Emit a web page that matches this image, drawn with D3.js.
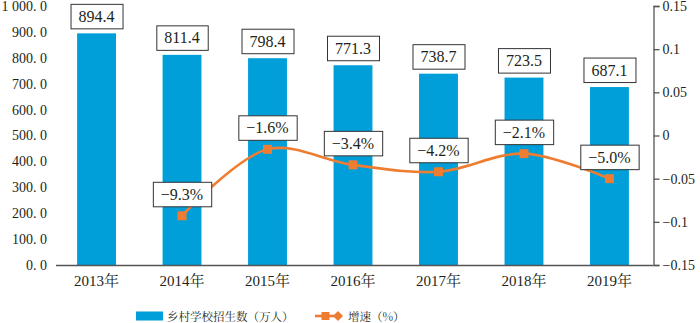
<!DOCTYPE html>
<html><head><meta charset="utf-8">
<script src="https://cdn.jsdelivr.net/npm/d3@7/dist/d3.min.js"></script>
<style>
html,body{margin:0;padding:0;background:#fff;}
svg{display:block;}
</style></head>
<body>
<svg id="chart" width="700" height="323"></svg>
<script>
const categories = ["2013年","2014年","2015年","2016年","2017年","2018年","2019年"];
const enrolment = [894.4, 811.4, 798.4, 771.3, 738.7, 723.5, 687.1];
const growth = [null, -9.3, -1.6, -3.4, -4.2, -2.1, -5.0];
const leftTicks = [0,100,200,300,400,500,600,700,800,900,1000];
const leftTickLabels = ["0. 0","100. 0","200. 0","300. 0","400. 0","500. 0","600. 0","700. 0","800. 0","900. 0","1 000. 0"];
const rightTicks = [-0.15,-0.1,-0.05,0,0.05,0.1,0.15];
const rightTickLabels = ["−0.15","−0.1","−0.05","0","0.05","0.1","0.15"];
const legendLabels = ["乡村学校招生数（万人）","增速（%）"];

const BLUE = "#009fd9", ORANGE = "#ee7d31", INK = "#231f20", AXIS = "#555";
const SERIF = '"Liberation Serif","Noto Serif CJK SC",serif';
const CJK = '"Noto Serif CJK SC","Noto Sans CJK SC",serif';

const svg = d3.select("#chart");
const x = d3.scaleBand().domain(categories).range([54, 652]).paddingInner(0.545).paddingOuter(0.27);
const yL = d3.scaleLinear().domain([0, 1000]).range([265, 6]);
const yR = d3.scaleLinear().domain([-0.15, 0.15]).range([265, 6]);

// bars
svg.append("g").selectAll("rect").data(enrolment).join("rect")
  .attr("x", (d,i) => x(categories[i]))
  .attr("width", x.bandwidth())
  .attr("y", d => yL(d))
  .attr("height", d => yL(0) - yL(d))
  .attr("fill", BLUE);

// left axis labels (no line)
const gl = svg.append("g").attr("transform","translate(47,0)")
  .call(d3.axisLeft(yL).tickValues(leftTicks).tickSize(0).tickPadding(0)
    .tickFormat((d,i) => leftTickLabels[i]));
gl.select(".domain").remove();
gl.selectAll("text").style("font-family", SERIF).style("font-size","14px").attr("fill", INK);

// bottom axis
const gb = svg.append("g").attr("transform","translate(0,265.5)")
  .call(d3.axisBottom(x).tickSize(0).tickPadding(10));
gb.select(".domain").attr("d","M56,0H653").attr("stroke", AXIS).attr("stroke-width",1.5);
gb.selectAll("text").style("font-family", SERIF).style("font-size","15px").attr("fill", INK);

// right axis
const gr = svg.append("g").attr("transform","translate(653.5,0)")
  .call(d3.axisRight(yR).tickValues(rightTicks).tickSize(6).tickPadding(3)
    .tickFormat((d,i) => rightTickLabels[i]));
gr.select(".domain").attr("stroke", AXIS).attr("stroke-width",1.3);
gr.selectAll(".tick line").attr("stroke", AXIS).attr("stroke-width",1.3);
gr.selectAll("text").style("font-family", SERIF).style("font-size","14px").attr("fill", INK);

// growth line
const pts = growth.map((g,i) => g == null ? null : {cx: x(categories[i]) + x.bandwidth()/2, cy: yR(g/100), g}).filter(p => p);
svg.append("path")
  .attr("d", d3.line().x(p => p.cx).y(p => p.cy).curve(d3.curveCatmullRom.alpha(0.5))(pts))
  .attr("fill","none").attr("stroke", ORANGE).attr("stroke-width", 2.6);
svg.append("g").selectAll("rect").data(pts).join("rect")
  .attr("x", p => p.cx - 4.5).attr("y", p => p.cy - 4.5)
  .attr("width", 9).attr("height", 9).attr("fill", ORANGE);

// label boxes
function boxLabel(cx, bottom, text) {
  const g = svg.append("g");
  const t = g.append("text").attr("x", cx).attr("y", bottom - 7)
    .attr("text-anchor","middle").style("font-family", SERIF).style("font-size","16px")
    .attr("fill", INK).text(text);
  const w = t.node().getComputedTextLength() + 16;
  g.insert("rect","text").attr("x", cx - w/2 + 0.5).attr("y", bottom - 24.5)
    .attr("width", w).attr("height", 24.5)
    .attr("fill","#fff").attr("stroke","#333").attr("stroke-width",1);
}
enrolment.forEach((d,i) => boxLabel(x(categories[i]) + x.bandwidth()/2, yL(d) - 4.5, d.toFixed(1)));
pts.forEach(p => boxLabel(p.cx, p.cy - 9, "−" + Math.abs(p.g).toFixed(1) + "%"));

// legend
const lg = svg.append("g");
lg.append("rect").attr("x",136).attr("y",311.5).attr("width",27).attr("height",9).attr("fill",BLUE);
lg.append("text").attr("x",167).attr("y",320.5).style("font-family",CJK).style("font-size","11.5px")
  .attr("fill", INK).text(legendLabels[0]);
lg.append("line").attr("x1",315).attr("x2",342).attr("y1",316).attr("y2",316).attr("stroke",ORANGE).attr("stroke-width",2.6);
lg.append("rect").attr("x",321.5).attr("y",312).attr("width",8).attr("height",8).attr("fill",ORANGE);
lg.append("path").attr("d","M338,311L343,316L338,321L333,316Z").attr("fill",ORANGE);
lg.append("text").attr("x",348).attr("y",320.5).style("font-family",CJK).style("font-size","11.5px")
  .attr("fill", INK).text(legendLabels[1]);
</script>
</body></html>
